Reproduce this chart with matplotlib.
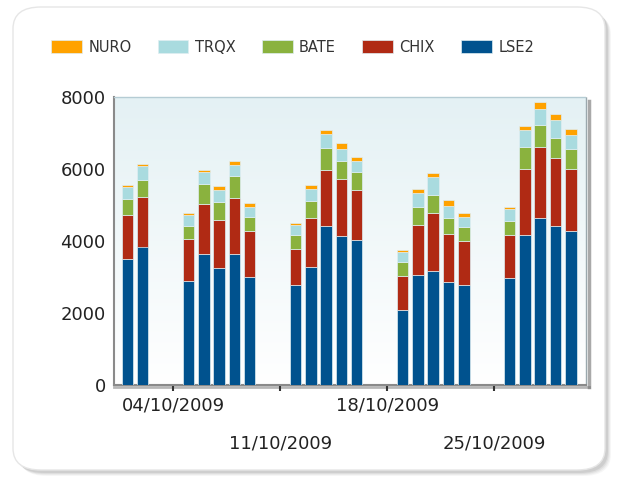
import matplotlib
matplotlib.use("Agg")
import matplotlib.pyplot as plt
import matplotlib.dates as mdates
from matplotlib.patches import FancyBboxPatch
import numpy as np
import pandas as pd

# trading days, October 2009
dates = ['2009-10-01', '2009-10-02',
         '2009-10-05', '2009-10-06', '2009-10-07', '2009-10-08', '2009-10-09',
         '2009-10-12', '2009-10-13', '2009-10-14', '2009-10-15', '2009-10-16',
         '2009-10-19', '2009-10-20', '2009-10-21', '2009-10-22', '2009-10-23',
         '2009-10-26', '2009-10-27', '2009-10-28', '2009-10-29', '2009-10-30']

lse2 = [3500, 3840, 2890, 3620, 3230, 3620, 3000, 2780, 3280, 4400, 4120,
        4010, 2060, 3060, 3170, 2840, 2780, 2950, 4170, 4620, 4400, 4280]
chix = [1220, 1390, 1170, 1390, 1340, 1560, 1280, 1000, 1340, 1560, 1610,
        1390, 950, 1390, 1610, 1340, 1220, 1220, 1840, 2000, 1890, 1720]
bate = [450, 460, 340, 560, 500, 610, 390, 390, 500, 610, 500,
        500, 390, 500, 500, 450, 390, 390, 610, 610, 560, 560]
trqx = [330, 390, 330, 340, 330, 330, 280, 280, 330, 400, 330,
        330, 280, 390, 500, 330, 280, 330, 450, 450, 500, 390]
nuro = [55, 55, 55, 55, 110, 110, 110, 55, 110, 110, 170,
        110, 55, 110, 110, 170, 110, 55, 110, 170, 170, 170]

series = ['LSE2', 'CHIX', 'BATE', 'TRQX', 'NURO']
colors = {'NURO': '#ffa200', 'TRQX': '#a9dbdf', 'BATE': '#8ab23e',
          'CHIX': '#b02a14', 'LSE2': '#00528e'}
tick_dates = ['2009-10-04', '2009-10-11', '2009-10-18', '2009-10-25']
tick_labels = ['04/10/2009', '11/10/2009', '18/10/2009', '25/10/2009']

W, H = 623, 482
fig = plt.figure(figsize=(W / 100, H / 100), dpi=100)
fig.patch.set_facecolor('white')

# rounded panel with soft shadow
for i, a in enumerate([0.05, 0.07, 0.09, 0.12]):
    off = 6 - i
    sh = FancyBboxPatch(((13 + off) / W, 1 - (470 + off) / H), 592 / W, 463 / H,
                        boxstyle="round,pad=0,rounding_size=0.045",
                        transform=fig.transFigure, facecolor='#606060',
                        edgecolor='none', alpha=a, zorder=0)
    fig.patches.append(sh)
panel = FancyBboxPatch((13 / W, 1 - 470 / H), 592 / W, 463 / H,
                       boxstyle="round,pad=0,rounding_size=0.045",
                       transform=fig.transFigure, facecolor='white',
                       edgecolor='#e6e6e6', linewidth=1, zorder=1)
fig.patches.append(panel)

ax = fig.add_axes([114 / W, 1 - 384.5 / H, (586 - 114) / W, (384.5 - 97) / H])
ax.set_zorder(2)
ax.patch.set_alpha(0)

x = mdates.date2num(pd.to_datetime(dates))
vals = {'LSE2': lse2, 'CHIX': chix, 'BATE': bate, 'TRQX': trqx, 'NURO': nuro}
bottom = np.zeros(len(dates))
for s in series:
    v = np.array(vals[s])
    ax.bar(x, v, width=0.76, bottom=bottom, color=colors[s],
           edgecolor='#dfeef2', linewidth=0.5, label=s, zorder=3)
    bottom = bottom + v

x0 = mdates.date2num(pd.Timestamp('2009-09-30 03:00'))
x1 = mdates.date2num(pd.Timestamp('2009-10-31 00:00'))
ax.set_xlim(x0, x1)
ax.set_ylim(0, 8000)

# gradient background
grad = np.linspace(0, 1, 256).reshape(-1, 1)
ax.imshow(grad, extent=[x0, x1, 0, 8000], aspect='auto', origin='upper',
          cmap=matplotlib.colors.LinearSegmentedColormap.from_list(
              'bg', ['#e4f1f4', '#ffffff']), zorder=0)

ax.set_yticks([0, 2000, 4000, 6000, 8000])
ax.set_yticklabels(['0', '2000', '4000', '6000', '8000'])
ax.tick_params(axis='y', length=0, pad=6, labelsize=13, labelcolor='#222222')

ax.set_xticks(mdates.date2num(pd.to_datetime(tick_dates)))
ax.set_xticklabels(tick_labels)
ax.tick_params(axis='x', length=4, width=1.5, color='#333333', labelsize=13,
               labelcolor='#222222', pad=5)
for i, lab in enumerate(ax.get_xticklabels()):
    if i % 2 == 1:
        lab.set_y(-0.13)

for side in ['left', 'bottom']:
    ax.spines[side].set_color('#8a8a8a')
    ax.spines[side].set_linewidth(1.5)
ax.spines['top'].set_color('#b5ccd4')
ax.spines['top'].set_linestyle((0, (1, 1)))
ax.spines['top'].set_linewidth(1)
ax.spines['right'].set_color('#9aa8ad')
ax.spines['right'].set_linestyle((0, (1, 1)))
ax.spines['right'].set_linewidth(1)

# shadow along right and bottom edges
ax.plot([1.006, 1.006], [-0.01, 0.985], transform=ax.transAxes, color='#707070',
        lw=2.5, alpha=0.6, clip_on=False, zorder=1)
ax.plot([0.0, 1.006], [-0.009, -0.009], transform=ax.transAxes, color='#707070',
        lw=2, alpha=0.5, clip_on=False, zorder=1)

handles, labels = ax.get_legend_handles_labels()
fig.legend(handles[::-1], labels[::-1], loc='center left',
           bbox_to_anchor=(51 / W, 1 - 47 / H), ncol=5, frameon=False,
           fontsize=10.5, handlelength=2.1, handleheight=0.9, handletextpad=0.45,
           columnspacing=1.8, borderpad=0, borderaxespad=0,
           labelcolor='#333333')

fig.savefig('out.png', dpi=100)
